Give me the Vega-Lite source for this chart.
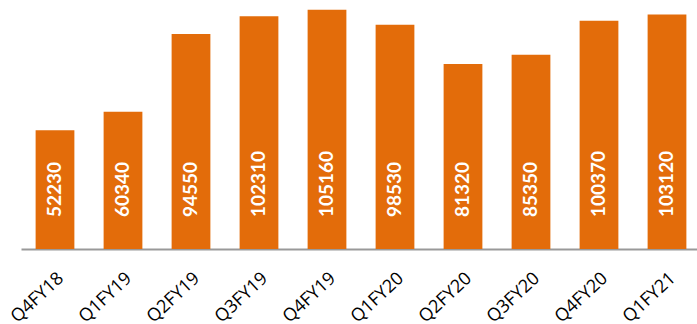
{
  "$schema": "https://vega.github.io/schema/vega-lite/v6.json",
  "width": 680,
  "height": 249,
  "padding": {"left": 21, "top": 0, "right": 0, "bottom": 75},
  "autosize": {"type": "none"},
  "background": "white",
  "config": {"view": {"stroke": null}, "font": "Lato"},
  "data": {"values": [
    {"q": "Q4FY18", "v": 52230},
    {"q": "Q1FY19", "v": 60340},
    {"q": "Q2FY19", "v": 94550},
    {"q": "Q3FY19", "v": 102310},
    {"q": "Q4FY19", "v": 105160},
    {"q": "Q1FY20", "v": 98530},
    {"q": "Q2FY20", "v": 81320},
    {"q": "Q3FY20", "v": 85350},
    {"q": "Q4FY20", "v": 100370},
    {"q": "Q1FY21", "v": 103120}
  ]},
  "encoding": {
    "x": {"field": "q", "type": "nominal", "sort": null,
      "scale": {"paddingInner": 0.43, "paddingOuter": 0.215},
      "axis": {"title": null, "labelAngle": -43, "labelFontSize": 18, "labelColor": "#000000", "labelFont": "Open Sans",
        "ticks": false, "domainColor": "#999999", "domainWidth": 2, "labelPadding": 20, "labelOverlap": false}},
    "y": {"field": "v", "type": "quantitative", "scale": {"domain": [0, 109450], "nice": false}, "axis": null}
  },
  "layer": [
    {"mark": {"type": "bar", "color": "#E36C0A"}},
    {"mark": {"type": "text", "angle": 270, "align": "left", "baseline": "middle", "color": "white", "fontSize": 19, "fontWeight": "bold", "font": "Lato", "dx": 32},
     "encoding": {"y": {"datum": 0}, "text": {"field": "v", "type": "quantitative", "format": "d"}}}
  ]
}
